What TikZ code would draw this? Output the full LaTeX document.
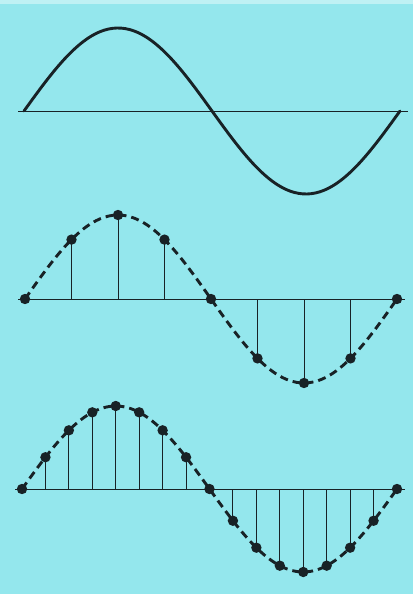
\documentclass[tikz,border=0pt]{standalone}
\usepackage{tikz}
\usetikzlibrary{positioning}
\usepackage{xcolor}
\definecolor{scanbg}{RGB}{148,231,237}
\definecolor{ink}{RGB}{24,34,38}

\begin{document}
\begin{tikzpicture}[x=1pt, y=-1pt,
    wave/.style={ink, line width=2.9pt},
    dashwave/.style={ink, line width=2.9pt, dash pattern=on 8pt off 5pt},
    axisline/.style={ink, line width=0.8pt},
    stem/.style={ink, line width=0.9pt},
    sampledot/.style={fill=ink}]
            \fill[scanbg] (0,0) rectangle (413,594);
            \fill[white!40!scanbg] (0,0) rectangle (413,4);
            \useasboundingbox (0,0) rectangle (413,594);

            % continuous signal
            \coordinate (A1) at (18,111);
            \coordinate (B1) at (408,111);
            \draw[axisline] (A1) -- (B1);
            \draw[wave, line cap=round] plot[domain=0:360, samples=90, smooth]
                ({24+\x/360*376}, {111-83*sin(\x)});

            % eight samples per period
            \coordinate (A2) at (18,299);
            \coordinate (B2) at (405,299);
            \draw[axisline] (A2) -- (B2);
            \draw[dashwave] plot[domain=0:360, samples=90, smooth]
                ({25+\x/360*372}, {299-84*sin(\x)});
            \foreach \i in {0,...,8} {
                \coordinate (T\i) at ({25+\i/8*372}, 299);
                \coordinate (S\i) at ({25+\i/8*372}, {299-84*sin(\i*45)});
                \draw[stem] (T\i) -- (S\i);
                \fill[sampledot] (S\i) circle (5.2pt);
            }

            % sixteen samples per period
            \coordinate (A3) at (15,489);
            \coordinate (B3) at (405,489);
            \draw[axisline] (A3) -- (B3);
            \draw[dashwave] plot[domain=0:360, samples=90, smooth]
                ({22+\x/360*375}, {489-83*sin(\x)});
            \foreach \i in {0,...,16} {
                \coordinate (U\i) at ({22+\i/16*375}, 489);
                \coordinate (R\i) at ({22+\i/16*375}, {489-83*sin(\i*22.5)});
                \draw[stem] (U\i) -- (R\i);
                \fill[sampledot] (R\i) circle (5.2pt);
            }
        \end{tikzpicture}
\end{document}
